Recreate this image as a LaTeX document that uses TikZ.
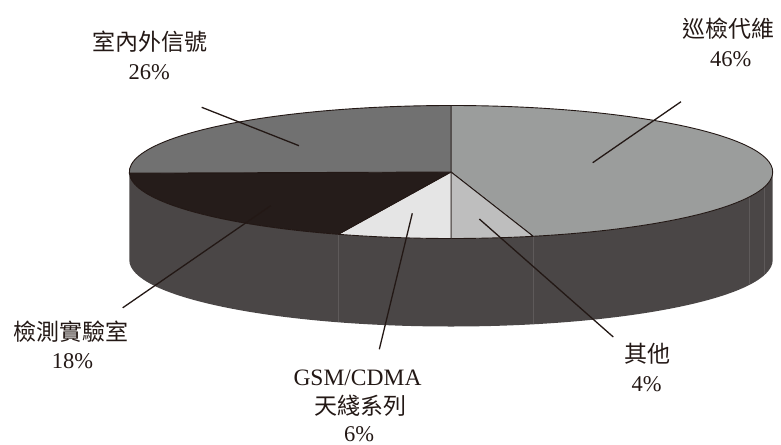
\documentclass[tikz,border=0pt]{standalone}
\usepackage{fontspec}
\setmainfont{Liberation Serif}
\newfontfamily\cjk{Noto Sans CJK TC}
\definecolor{outl}{HTML}{231815}
\definecolor{txt}{HTML}{231815}
\definecolor{sideclr}{HTML}{4A4646}
\definecolor{faintclr}{HTML}{5E5A5A}
\definecolor{cA}{HTML}{9B9D9C}
\definecolor{cB}{HTML}{BEBEBE}
\definecolor{cC}{HTML}{E5E5E5}
\definecolor{cD}{HTML}{251C1A}
\definecolor{cE}{HTML}{717171}
\begin{document}
\begin{tikzpicture}[x=1pt,y=-1pt,
  slice/.style={draw=outl,line width=0.9pt,line join=round},
  leader/.style={draw=outl,line width=1.3pt},
  faint/.style={draw=faintclr,line width=0.6pt},
  lat/.style={inner sep=0pt,text=txt,font=\fontsize{22.5}{27}\selectfont},
  cj/.style={inner sep=0pt,text=txt,font=\cjk\fontsize{23}{27}\selectfont}]
\useasboundingbox (0,0) rectangle (781,444);
\def\cx{451}\def\cy{172}\def\rx{321.7}\def\ry{66.5}\def\dd{88}
\coordinate (ctr) at (\cx,\cy);
\newcommand\mkpt[2]{\coordinate (#1) at ({\cx+\rx*sin(#2)},{\cy-\ry*cos(#2)});}
\newcommand\pieslice[3]{%
  \pgfmathsetmacro\sa{#1-90}\pgfmathsetmacro\ea{#2-90}%
  \mkpt{ps}{#1}%
  \filldraw[slice,fill=#3] (ctr) -- (ps) arc[start angle=\sa,end angle=\ea,x radius=\rx,y radius=\ry] -- cycle;}
% side
\mkpt{sr}{90}
\mkpt{sl}{270}
\fill[sideclr] (sr) -- ++(0,\dd) arc[start angle=0,end angle=180,x radius=\rx,y radius=\ry] -- (sl) arc[start angle=180,end angle=0,x radius=\rx,y radius=\ry] -- cycle;
\foreach \t [count=\i] in {103.3,112,165.2,200.5}{
  \mkpt{f\i}{\t}
  \draw[faint] (f\i) -- ++(0,\dd);
}
% top slices
\pieslice{0}{165.2}{cA}
\pieslice{165.2}{180}{cB}
\pieslice{180}{200.5}{cC}
\pieslice{200.5}{269}{cD}
\pieslice{269}{360}{cE}
% leader coordinates
\coordinate (l26a) at (299,145.7); \coordinate (l26b) at (201.7,107.3);
\coordinate (l46a) at (592.7,162.7); \coordinate (l46b) at (681,101.7);
\coordinate (l18a) at (270.7,205.7); \coordinate (l18b) at (122.7,307.8);
\coordinate (l6a) at (412.3,213.3); \coordinate (l6b) at (379.3,349.3);
\coordinate (l4a) at (479.3,219); \coordinate (l4b) at (613.3,337);
\draw[leader] (l26a) -- (l26b);
\draw[leader] (l46a) -- (l46b);
\draw[leader] (l18a) -- (l18b);
\draw[leader] (l6a) -- (l6b);
\draw[leader] (l4a) -- (l4b);
% labels
\node[cj] (t26) at (150,41.7) {室內外信號};
\node[lat] (p26) at (149.2,72.2) {26\%};
\node[cj] (t46) at (728.3,28.3) {巡檢代維};
\node[lat] (p46) at (730.8,59.2) {46\%};
\node[cj] (t18) at (70.8,331.7) {檢測實驗室};
\node[lat] (p18) at (72.5,360.8) {18\%};
\node[lat,font=\fontsize{23.5}{27}\selectfont] (t6a) at (357.5,378) {GSM/CDMA};
\node[cj] (t6b) at (360,405.5) {天綫系列};
\node[lat] (p6) at (359.2,434) {6\%};
\node[cj] (t4) at (647.5,353.3) {其他};
\node[lat] (p4) at (646.7,384.2) {4\%};
\end{tikzpicture}
\end{document}
